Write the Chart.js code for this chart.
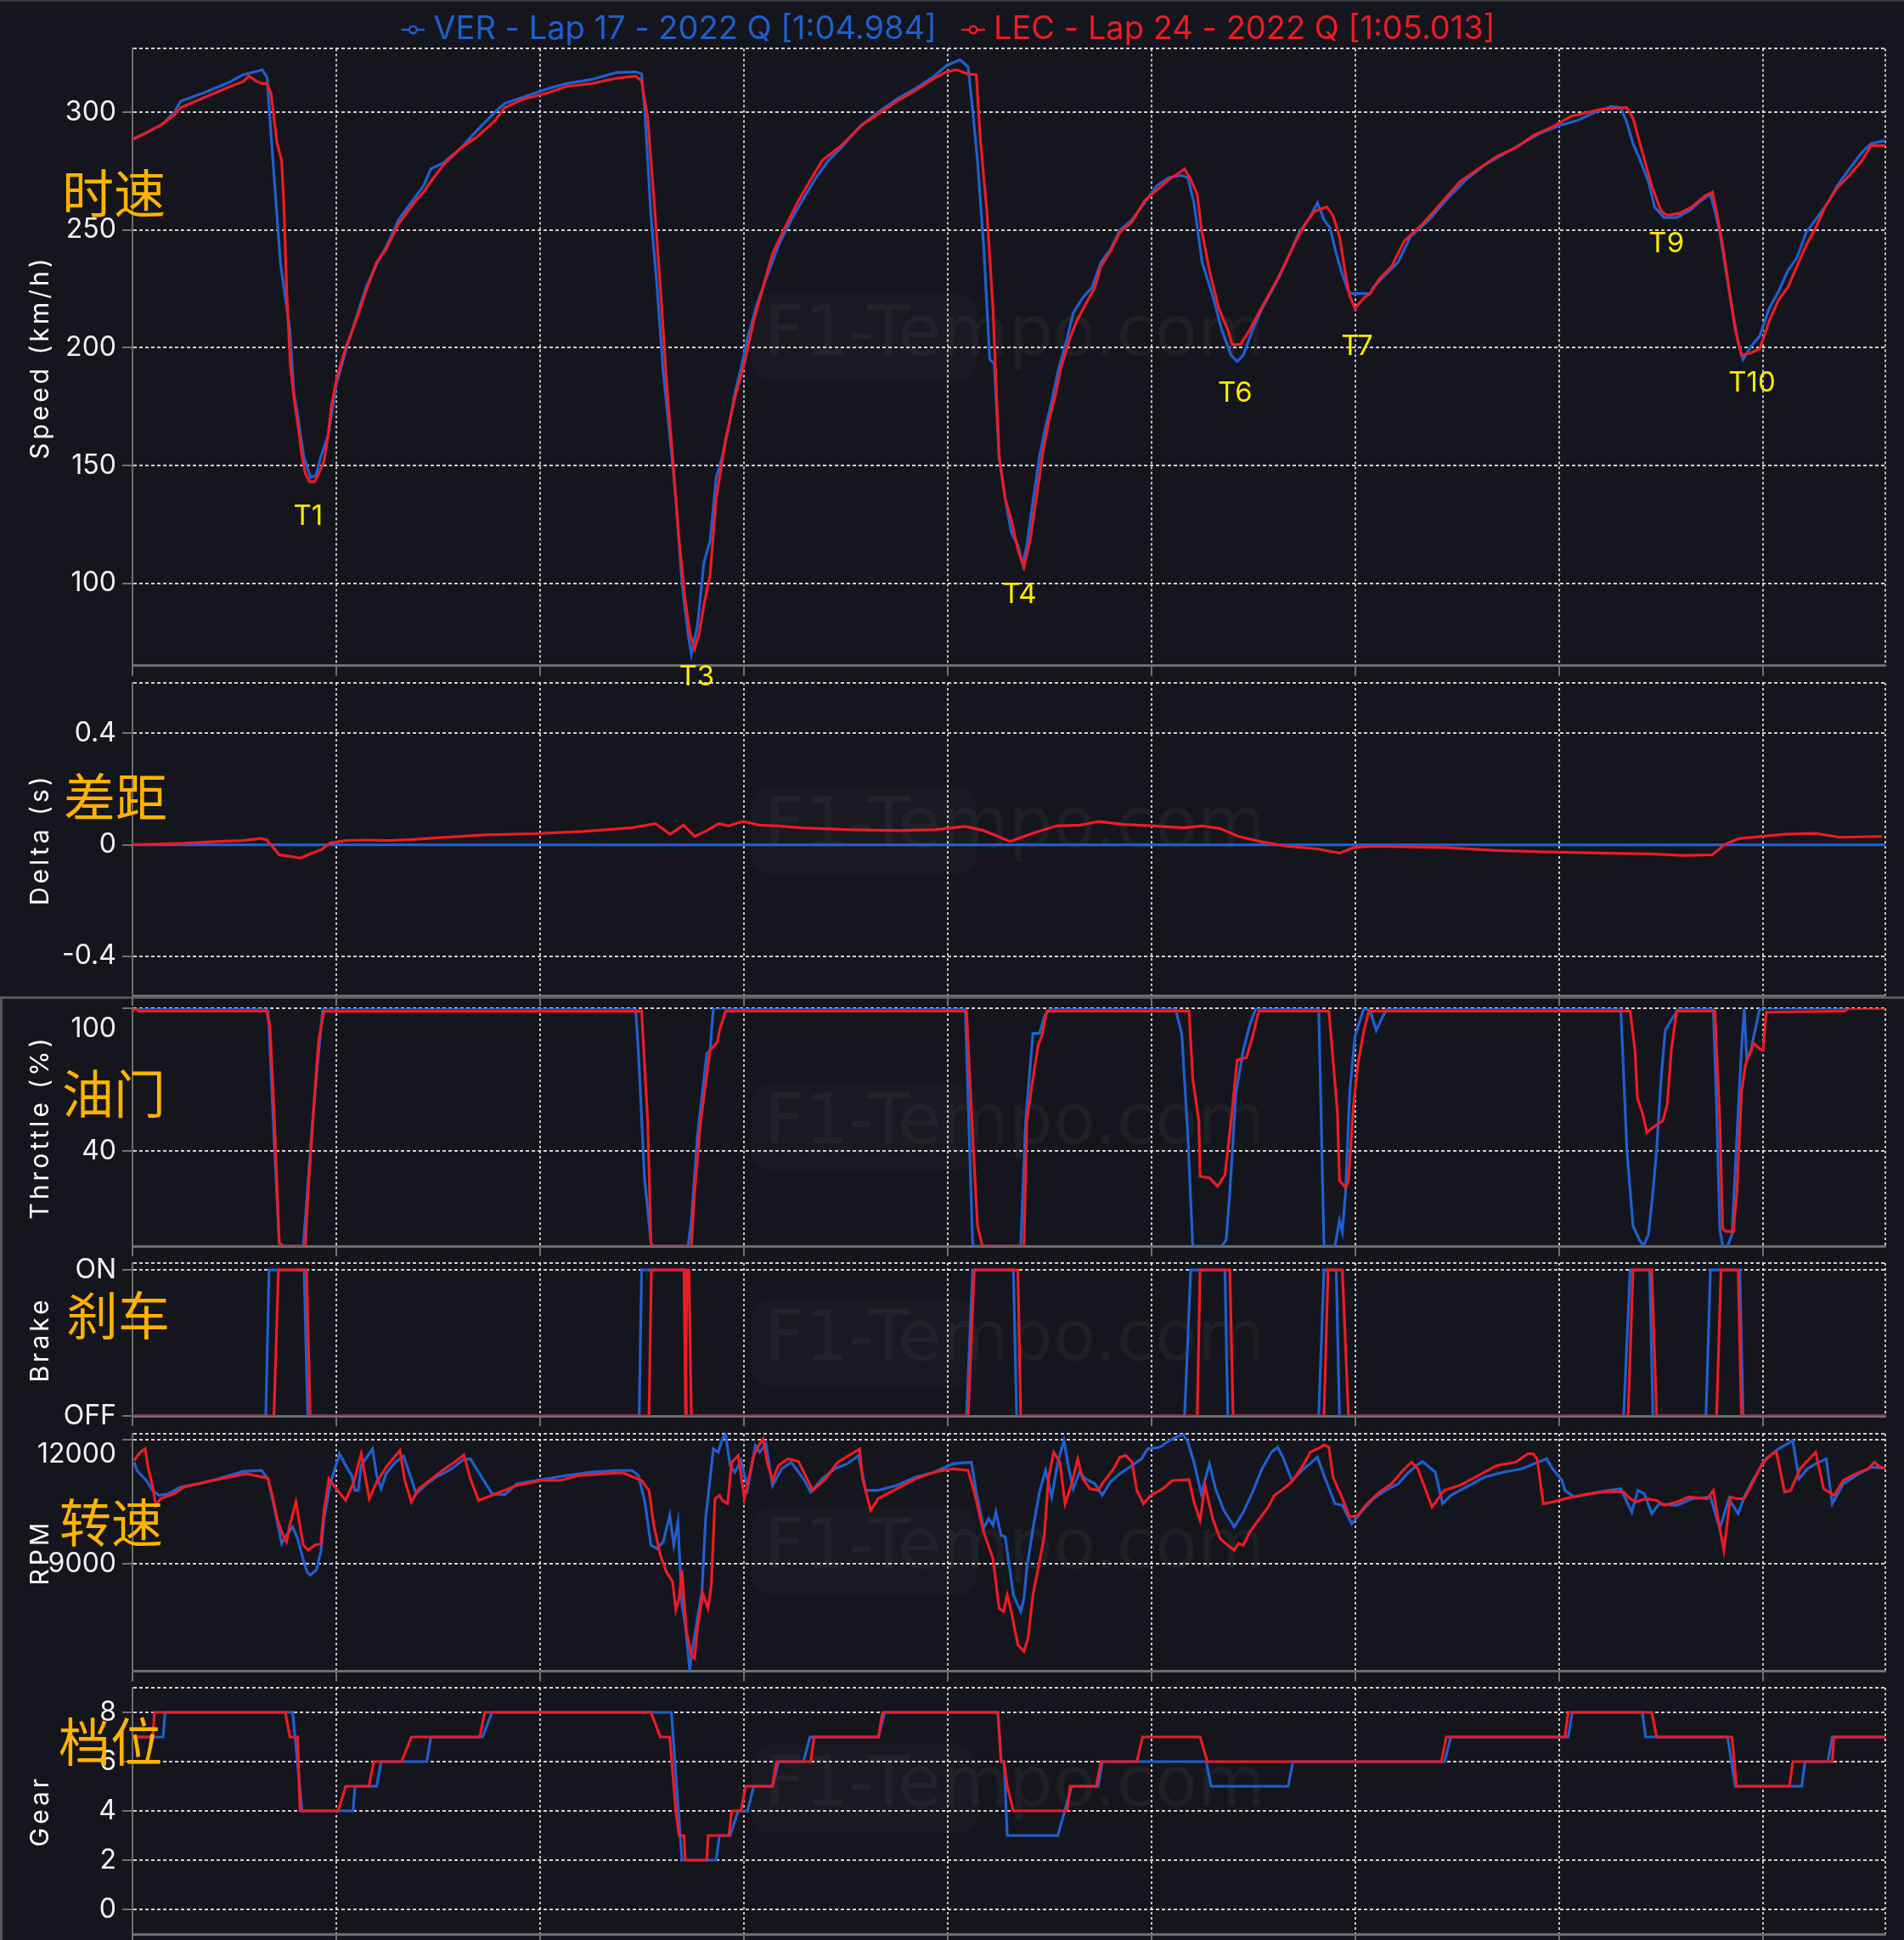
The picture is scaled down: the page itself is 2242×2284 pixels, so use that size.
<!DOCTYPE html>
<html><head><meta charset="utf-8">
<script src="https://cdn.jsdelivr.net/npm/chart.js@4.4.1/dist/chart.umd.min.js"></script>
<style>
html,body{margin:0;padding:0;width:2242px;height:2284px;overflow:hidden;background:#15151d;}
.pane{position:absolute;left:0;}
canvas{display:block;}
.cn{position:absolute;font-family:"Noto Sans CJK SC";font-size:61px;line-height:1;color:#ffb300;transform:translate(-50%,-50%);white-space:nowrap;z-index:50;}
.wm{position:absolute;font-family:"DejaVu Sans";font-size:82px;line-height:1;color:rgba(255,255,255,0.045);transform:translate(-50%,-50%);white-space:nowrap;z-index:1;}
.wmbox{position:absolute;width:265px;height:104px;border-radius:22px;background:rgba(255,255,255,0.02);z-index:1;}
#topline{position:absolute;left:0;top:0;width:2242px;height:2px;background:#3a3a3a;z-index:2;}
#lowerbox{position:absolute;left:0;top:1173px;width:2239px;height:1111px;border-top:3px solid #555;border-left:3px solid #555;z-index:2;}
</style></head><body>
<div id="topline"></div><div id="lowerbox"></div>
<script>
// ---------- data ----------
const verLabel = 'VER - Lap 17 - 2022 Q [1:04.984]';
const lecLabel = 'LEC - Lap 24 - 2022 Q [1:05.013]';
const lapLength = 4300;
const distanceTicks = [0, 500, 1000, 1500, 2000, 2500, 3000, 3500, 4000];

const speedTicks = [100, 150, 200, 250, 300];
const deltaTicks = [-0.4, 0, 0.4];
const throttleTicks = [40, 100];
const brakeTicks = [0, 1];
const brakeTickLabels = ['OFF', 'ON'];
const rpmTicks = [9000, 12000];
const gearTicks = [0, 2, 4, 6, 8];

const cornerNames = ['T1', 'T3', 'T4', 'T6', 'T7', 'T9', 'T10'];
const cornerDist = [431, 1384, 2176, 2705, 3004, 3763, 3973];
const cornerSpeed = [128.5, 60.2, 95.3, 180.5, 200.5, 244, 185];

const verSpeed = [[0,288.5],[26,290.6],[72,294.8],[103,300],[118,304.7],[179,308.6],[240,313],[271,316],[309,317.6],[318,318.1],[330,315],[340,290.3],[363,236],[386,207.7],[396,180.8],[405,171.8],[420,153.8],[437,144.8],[450,145.8],[462,153.8],[480,162.8],[500,184.4],[523,198.7],[546,211.3],[573,225.7],[599,235.5],[622,242.7],[653,254.4],[691,263.4],[714,268.8],[732,276],[763,278.6],[806,284.9],[844,292.1],[890,300.2],[913,303.8],[959,306.5],[1020,310.1],[1065,312.2],[1127,314],[1188,316.9],[1234,317.2],[1249,316.3],[1257,300],[1264,279.5],[1272,256],[1287,225.7],[1302,189.7],[1318,162.8],[1333,135.9],[1348,100],[1363,78.4],[1371,69.8],[1386,82],[1402,109],[1417,118],[1432,144.8],[1447,153.8],[1463,166.4],[1478,180.8],[1493,191.5],[1509,204.1],[1532,218.5],[1554,229.2],[1585,243.6],[1616,254.4],[1646,263.4],[1677,272.3],[1707,279.5],[1738,284.9],[1784,293.9],[1830,300.2],[1875,305.6],[1921,310.1],[1967,315.4],[1998,320],[2030,322.3],[2050,319.4],[2061,301.1],[2073,279.5],[2088,243.6],[2103,195.1],[2114,193.3],[2126,153.8],[2141,135.9],[2156,121.5],[2172,116.1],[2184,108],[2194,116.1],[2210,135.9],[2225,153.8],[2240,166.4],[2255,177.2],[2270,189.7],[2293,204.1],[2308,214.9],[2331,221.2],[2354,225.7],[2376,236.4],[2399,241.8],[2422,249.9],[2452,254.4],[2483,261.6],[2513,268.8],[2543,272.3],[2574,273.2],[2589,272.3],[2604,261.6],[2624,236.4],[2650,222],[2672,207.7],[2695,196.9],[2710,194.2],[2725,196.9],[2748,207.7],[2771,216.7],[2794,223.9],[2816,231.1],[2839,240],[2862,249],[2885,254.4],[2907,261.6],[2923,254.4],[2938,250.8],[2953,240],[2968,231.1],[2983,223.9],[2991,223],[3036,223],[3044,225.7],[3074,231.1],[3105,236.4],[3135,247.2],[3181,254.4],[3226,263.4],[3272,271.5],[3317,277.7],[3363,282.2],[3408,286.7],[3454,291.2],[3499,294.3],[3545,296.6],[3590,300.2],[3628,302.5],[3651,302],[3666,295.7],[3681,286.7],[3697,280.4],[3719,270.5],[3734,259.8],[3757,255.3],[3788,255.3],[3818,258],[3848,262.5],[3871,265.2],[3882,258],[3894,249],[3909,232.8],[3924,216.7],[3939,202.3],[3951,195.1],[3970,200.5],[3992,205],[4015,216.7],[4038,223.9],[4061,232.8],[4083,238.2],[4106,249],[4129,254.4],[4159,261.6],[4182,268.8],[4212,276],[4243,283.1],[4265,286.7],[4288,287.6],[4300,288]];

const lecSpeed = [[0,288.5],[26,290.6],[72,294.8],[103,299],[118,302],[179,306.5],[240,311],[271,313],[286,315.4],[303,313.3],[318,312.2],[330,312.2],[340,308],[347,297.5],[355,286.7],[366,279.5],[372,258],[378,225.7],[387,193.3],[396,179],[405,168.2],[416,153.8],[424,146.6],[434,143.1],[447,143.1],[457,146.6],[470,152],[480,162.8],[488,175.4],[500,186.2],[523,200],[546,210.4],[573,224],[599,236.4],[622,241.8],[653,252.6],[691,261.6],[714,266.1],[732,270.6],[763,277.7],[806,284.9],[844,289.4],[890,296.6],[913,302],[959,305.6],[1020,308.3],[1065,311],[1127,312.2],[1188,314.5],[1234,315.4],[1249,313.3],[1264,297.5],[1280,261.6],[1295,225.7],[1310,186.2],[1325,153.8],[1341,118],[1356,92.8],[1368,78.4],[1379,72.1],[1390,78.4],[1402,91],[1417,103.5],[1432,135.9],[1455,161],[1478,179],[1501,193.3],[1524,211.3],[1547,225.7],[1570,240],[1600,250.8],[1631,261.6],[1661,270.6],[1692,279.5],[1738,285.8],[1791,294.8],[1830,299.3],[1875,304.7],[1921,309.2],[1967,314.5],[1997,317.2],[2020,318.1],[2050,316.3],[2070,316],[2080,288.5],[2096,258],[2111,216.7],[2126,153.8],[2141,135.9],[2156,127],[2172,114.3],[2187,106.8],[2202,118],[2217,135.9],[2232,153.8],[2247,168.2],[2263,179],[2278,191.5],[2300,204.1],[2316,211.3],[2338,218.5],[2361,225.7],[2376,234.6],[2399,240.9],[2422,249],[2452,253.5],[2483,262.5],[2513,267],[2543,271.5],[2566,274.1],[2581,276],[2596,271.5],[2612,265.2],[2622,250.8],[2642,232.8],[2665,216.7],[2687,207.7],[2698,201.4],[2718,201.4],[2741,207.7],[2763,214.9],[2786,222],[2809,229.3],[2832,237.3],[2854,245.4],[2877,252.6],[2900,258],[2930,259.8],[2945,256.2],[2961,247.2],[2976,231.1],[2986,222],[2999,216.7],[3021,221.2],[3036,223],[3059,229.3],[3089,234.6],[3120,245.4],[3165,252.6],[3211,261.6],[3257,270.6],[3302,276],[3347,281.3],[3393,284.9],[3438,290.3],[3484,293.9],[3530,298.4],[3575,300.2],[3605,301.4],[3666,302],[3681,297.5],[3704,283.1],[3727,268.8],[3750,258],[3765,256.2],[3795,257.1],[3825,259.8],[3856,264.3],[3876,266.1],[3886,258],[3901,243.6],[3916,225.7],[3932,207.7],[3947,196.9],[3970,197.8],[3992,199.6],[4015,211.3],[4038,220.3],[4061,225.7],[4083,234.6],[4106,243.6],[4129,250.8],[4152,259.8],[4182,267.9],[4212,273.2],[4243,279.5],[4265,285.8],[4288,285.8],[4300,286]];

const verDelta = [[0,0],[4300,0]];
const lecDelta = [[0,0],[122,0.005],[211,0.012],[271,0.015],[315,0.023],[330,0.017],[360,-0.036],[384,-0.041],[411,-0.048],[435,-0.033],[464,-0.017],[485,0.007],[524,0.015],[569,0.017],[628,0.015],[688,0.019],[747,0.025],[866,0.036],[986,0.040],[1105,0.048],[1224,0.061],[1283,0.076],[1319,0.038],[1352,0.071],[1379,0.030],[1409,0.051],[1438,0.076],[1462,0.068],[1498,0.084],[1537,0.071],[1581,0.068],[1641,0.061],[1760,0.054],[1879,0.051],[1969,0.054],[2043,0.066],[2088,0.051],[2153,0.012],[2207,0.041],[2267,0.068],[2326,0.071],[2371,0.084],[2430,0.073],[2505,0.068],[2579,0.061],[2624,0.068],[2669,0.058],[2713,0.030],[2773,0.010],[2832,-0.005],[2907,-0.015],[2961,-0.030],[2996,-0.010],[3041,-0.005],[3220,-0.010],[3339,-0.020],[3458,-0.025],[3607,-0.030],[3726,-0.033],[3801,-0.038],[3875,-0.036],[3905,0],[3940,0.022],[4054,0.038],[4128,0.041],[4188,0.027],[4292,0.030]];

const verThrottle = [[0,100],[320,100],[332,99],[335,91.8],[347,46.5],[360,1.3],[363,0],[419,0],[427,18],[439,46.5],[454,76.3],[467,100],[1234,100],[1241,82.3],[1256,28.7],[1272,1.3],[1276,0],[1363,0],[1371,10.8],[1386,46.5],[1409,81],[1417,82.3],[1425,100],[2043,100],[2061,1.3],[2064,0],[2179,0],[2191,52.5],[2209,89.4],[2225,89.4],[2237,96.5],[2252,100],[2558,100],[2574,89.4],[2589,46.5],[2601,0],[2672,0],[2683,2.5],[2692,22.7],[2707,64.4],[2725,82.3],[2741,93],[2756,100],[2910,100],[2923,0],[2950,0],[2961,10.8],[2968,6],[2976,22.7],[2986,64.4],[2999,88.2],[3021,100],[3036,99],[3051,90.6],[3067,96.5],[3079,100],[3651,100],[3666,40.6],[3681,8.5],[3697,2.5],[3707,0],[3719,4.9],[3730,22.7],[3739,40.6],[3750,70.4],[3760,90.6],[3780,96.5],[3795,100],[3878,100],[3886,58.5],[3894,7.3],[3901,0],[3913,0],[3924,4.9],[3936,46.5],[3947,82.3],[3954,100],[3960,78.7],[3970,82.3],[3992,100],[4300,100]];
const lecThrottle = [[0,98.8],[8,100],[15,98.8],[329,98.8],[337,93],[347,58.5],[360,1.3],[370,0],[424,0],[431,22.7],[447,64.4],[457,87],[470,98.7],[1249,98.8],[1264,52.5],[1272,1.3],[1276,0],[1371,0],[1379,22.7],[1394,52.5],[1417,82.3],[1435,85.8],[1440,90.6],[1455,98.8],[2046,98.8],[2061,46.5],[2073,8.5],[2085,0],[2187,0],[2194,52.5],[2209,70.4],[2222,84.6],[2232,88.8],[2243,98.8],[2592,98.8],[2601,70.4],[2616,52.5],[2619,29.3],[2642,28.7],[2662,25.1],[2680,29.9],[2695,52.5],[2710,78.1],[2733,79.3],[2748,88.2],[2763,98.8],[2935,98.8],[2945,78.7],[2956,56.1],[2961,27.5],[2976,24.5],[2983,27.5],[2995,58.5],[3006,76.3],[3021,90.6],[3033,98.8],[3674,98.8],[3686,82.3],[3692,62],[3704,56.1],[3715,47.7],[3727,49.5],[3742,51.3],[3754,52.5],[3765,59.6],[3775,82.3],[3788,98.8],[3882,98.8],[3894,52.5],[3901,7.3],[3909,6.1],[3927,6.1],[3936,22.7],[3947,64.4],[3957,76.3],[3977,85.2],[3992,82.9],[4000,82.3],[4008,98.3],[4200,98.8],[4210,100],[4300,100]];

const verBrake = [[0,0],[327,0],[335,1],[421,1],[430,0],[1243,0],[1249,1],[1353,1],[1359,0],[2046,0],[2061,1],[2161,1],[2169,0],[2581,0],[2596,1],[2680,1],[2687,0],[2910,0],[2923,1],[2953,1],[2961,0],[3658,0],[3674,1],[3722,1],[3730,0],[3860,0],[3871,1],[3943,1],[3951,0],[4300,0]];
const lecBrake = [[0,0],[347,0],[358,1],[427,1],[436,0],[1267,0],[1273,1],[1353,1],[1357,0],[1360,1],[1365,1],[1371,0],[2050,0],[2065,1],[2172,1],[2179,0],[2612,0],[2619,1],[2692,1],[2700,0],[2923,0],[2933,1],[2968,1],[2983,0],[3669,0],[3681,1],[3727,1],[3739,0],[3886,0],[3897,1],[3939,1],[3947,0],[4300,0]];

const verRpm = [[4,11461],[11,11260],[34,11019],[49,10778],[65,10657],[88,10697],[118,10858],[164,10938],[210,11059],[271,11236],[317,11260],[332,11059],[347,10415],[366,9490],[378,9691],[393,9892],[405,9611],[416,9208],[428,8806],[436,8726],[451,8846],[462,9289],[470,10093],[485,10938],[508,11663],[523,11381],[538,11140],[546,10778],[554,10778],[561,11381],[589,11783],[599,11140],[610,10818],[622,11180],[645,11461],[665,11606],[684,11059],[696,10697],[722,10938],[745,11099],[783,11301],[813,11526],[829,11542],[844,11301],[882,10697],[913,10673],[943,10938],[1004,11043],[1065,11140],[1127,11220],[1188,11260],[1226,11260],[1241,11140],[1257,10496],[1272,9450],[1287,9369],[1302,9530],[1318,10174],[1328,9450],[1338,10013],[1348,8001],[1356,7519],[1367,6432],[1374,6955],[1386,7680],[1397,8323],[1406,10093],[1417,11059],[1425,11783],[1437,11703],[1447,12025],[1455,12145],[1466,11381],[1478,11220],[1493,11502],[1509,10818],[1528,11864],[1539,11703],[1554,11904],[1570,10898],[1593,11301],[1616,11461],[1646,11059],[1664,10737],[1692,11059],[1723,11301],[1753,11421],[1781,11622],[1799,10778],[1829,10778],[1875,10898],[1921,11099],[1967,11220],[2012,11421],[2058,11461],[2070,10737],[2088,9852],[2100,10093],[2111,9933],[2118,10254],[2131,9691],[2141,9651],[2152,8887],[2161,8243],[2172,8001],[2179,7841],[2187,8162],[2194,8887],[2209,9852],[2225,10737],[2240,11260],[2255,10617],[2270,11461],[2285,11985],[2297,11301],[2308,10818],[2323,11220],[2338,11059],[2361,10938],[2379,10657],[2399,10979],[2422,11180],[2452,11381],[2475,11542],[2490,11783],[2521,11824],[2543,11985],[2577,12145],[2589,11944],[2604,11461],[2622,10697],[2642,11421],[2657,10818],[2677,10295],[2703,9892],[2725,10254],[2748,10737],[2771,11301],[2794,11703],[2809,11824],[2824,11542],[2844,11019],[2869,11260],[2907,11582],[2923,11140],[2950,10456],[2968,10415],[2991,9973],[3014,10254],[3044,10576],[3074,10778],[3105,10938],[3127,11180],[3150,11381],[3165,11478],[3196,11220],[3214,10456],[3234,10657],[3272,10858],[3317,11099],[3363,11220],[3408,11301],[3438,11421],[3469,11542],[3484,11301],[3507,11019],[3514,10778],[3537,10617],[3575,10697],[3621,10778],[3651,10818],[3678,10254],[3693,10778],[3709,10697],[3727,10214],[3745,10456],[3788,10415],[3826,10576],[3871,10617],[3894,9852],[3916,10576],[3939,10214],[3954,10617],[3977,11059],[4007,11542],[4038,11783],[4073,11985],[4088,11059],[4109,11301],[4129,11421],[4155,11542],[4170,10456],[4197,10938],[4235,11180],[4266,11341],[4300,11317]];
const lecRpm = [[4,11502],[19,11703],[31,11783],[39,11301],[49,10898],[57,10415],[69,10576],[103,10697],[126,10858],[179,10979],[225,11075],[279,11180],[332,11075],[343,10657],[355,10093],[366,9772],[378,9530],[386,9933],[401,10496],[408,10093],[419,9450],[431,9329],[447,9450],[462,9490],[470,10295],[482,11059],[500,10818],[523,10536],[543,10979],[561,11663],[581,10576],[599,10979],[625,11381],[656,11743],[668,11019],[684,10496],[702,10818],[729,11019],[760,11260],[790,11461],[813,11638],[829,11059],[849,10536],[882,10657],[943,10898],[1004,11019],[1050,11019],[1096,11140],[1157,11180],[1203,11204],[1249,11019],[1267,10778],[1279,9933],[1295,9208],[1310,8806],[1325,8565],[1333,7881],[1341,8162],[1348,8846],[1359,7357],[1371,6794],[1379,6714],[1386,7438],[1399,8283],[1412,7921],[1420,8484],[1429,10576],[1440,10657],[1447,10536],[1460,10456],[1470,11461],[1486,11622],[1501,10576],[1524,11622],[1536,11864],[1547,12025],[1557,11461],[1570,11019],[1585,11381],[1608,11542],[1634,11478],[1669,10778],[1700,11059],[1730,11461],[1784,11783],[1791,11059],[1811,10295],[1829,10576],[1875,10818],[1921,11059],[1967,11220],[2012,11301],[2050,11260],[2065,10737],[2088,9772],[2111,9128],[2126,7921],[2137,7841],[2146,8243],[2156,7841],[2172,7036],[2187,6875],[2197,7197],[2209,8243],[2225,9048],[2237,9691],[2247,11059],[2260,11703],[2275,11461],[2288,10456],[2303,10898],[2319,11542],[2331,11059],[2349,10818],[2369,10778],[2379,10938],[2407,11301],[2422,11582],[2437,11622],[2452,11461],[2464,10778],[2480,10456],[2498,10657],[2528,10818],[2551,11019],[2592,11035],[2604,10496],[2619,10053],[2631,10898],[2650,10093],[2668,9611],[2687,9450],[2703,9329],[2713,9490],[2725,9450],[2741,9772],[2759,10013],[2786,10375],[2801,10657],[2824,10818],[2847,11019],[2874,11421],[2889,11703],[2915,11824],[2923,11880],[2935,11824],[2945,11099],[2965,10657],[2986,10134],[3006,10174],[3029,10456],[3059,10737],[3089,10938],[3120,11301],[3138,11461],[3153,11301],[3173,10778],[3188,10375],[3218,10778],[3256,10898],[3302,11140],[3347,11381],[3393,11461],[3423,11663],[3436,11663],[3446,11542],[3461,10456],[3484,10496],[3530,10617],[3575,10697],[3621,10754],[3658,10737],[3674,10576],[3689,10496],[3712,10576],[3739,10536],[3757,10415],[3788,10496],[3818,10617],[3863,10576],[3878,10778],[3891,10013],[3904,9329],[3920,10617],[3936,10576],[3954,10576],[3977,11019],[4000,11461],[4023,11663],[4033,11703],[4053,10737],[4068,10778],[4091,11301],[4129,11703],[4149,10818],[4174,10657],[4197,11019],[4227,11180],[4258,11301],[4273,11461],[4288,11341],[4300,11301]];

const verGear = [[0,7],[75,7],[80,8],[393,8],[416,4],[541,4],[546,5],[599,5],[610,6],[722,6],[732,7],[859,7],[882,8],[1322,8],[1348,2],[1432,2],[1440,3],[1466,3],[1486,4],[1509,4],[1524,5],[1570,5],[1585,6],[1646,6],[1662,7],[1830,7],[1845,8],[2123,8],[2131,6],[2138,6],[2146,3],[2270,3],[2304,5],[2369,5],[2379,6],[2634,6],[2646,5],[2835,5],[2847,6],[3219,6],[3234,7],[3522,7],[3532,8],[3704,8],[3712,7],[3913,7],[3932,5],[4095,5],[4103,6],[4159,6],[4170,7],[4300,7]];
const lecGear = [[0,7],[50,7],[54,8],[375,8],[386,7],[405,7],[411,4],[505,4],[523,5],[580,5],[592,6],[660,6],[684,7],[852,7],[864,8],[1272,8],[1295,7],[1318,7],[1333,4],[1341,3],[1353,3],[1356,2],[1409,2],[1412,3],[1463,3],[1470,4],[1493,4],[1504,5],[1570,5],[1580,6],[1664,6],[1672,7],[1830,7],[1840,8],[2123,8],[2131,6],[2138,6],[2146,5],[2161,4],[2293,4],[2300,5],[2364,5],[2376,6],[2464,6],[2478,7],[2619,7],[2637,6],[3211,6],[3223,7],[3514,7],[3522,8],[3727,8],[3739,7],[3924,7],[3935,5],[4065,5],[4073,6],[4170,6],[4174,7],[4300,7]];

// ---------- styling / layout ----------
const verColor = '#1f5fce';
const lecColor = '#ec1c24';
const FONT = 'Inter';
const TICK_SIZE = 32;

const panels = [
  {title:'Speed (km/h)', cn:'时速', ver:verSpeed, lec:lecSpeed, min:65, max:327, ticks:speedTicks, plotTop:57.4, plotBottom:783.7, padTop:0, legend:true, cnX:134, cnY:224, wmY:390},
  {title:'Delta (s)', cn:'差距', ver:verDelta, lec:lecDelta, min:-0.542, max:0.581, ticks:deltaTicks, plotTop:804.3, plotBottom:1172.7, padTop:30, cnX:136, cnY:935, wmY:969},
  {title:'Throttle (%)', cn:'油门', ver:verThrottle, lec:lecThrottle, min:0, max:100, ticks:throttleTicks, plotTop:1187, plotBottom:1467, padTop:62, labelShift:{100:24}, cnX:134, cnY:1284, wmY:1318},
  {title:'Brake', cn:'刹车', ver:verBrake, lec:lecBrake, min:0, max:1.047, ticks:brakeTicks, tickLabels:brakeTickLabels, plotTop:1487, plotBottom:1667, padTop:30, cnX:139, cnY:1545, wmY:1573},
  {title:'RPM', cn:'转速', ver:verRpm, lec:lecRpm, min:6400, max:12150, ticks:rpmTicks, plotTop:1687.6, plotBottom:1967, padTop:30, labelShift:{12000:17}, cnX:131, cnY:1789, wmY:1818},
  {title:'Gear', cn:'档位', ver:verGear, lec:lecGear, min:-1, max:9, ticks:gearTicks, plotTop:1987, plotBottom:2277, padTop:30, cnX:130, cnY:2047, wmY:2098}
];

const toXY = pairs => pairs.map(([x, y]) => ({x, y}));

function legendIcon(color) {
  const c = document.createElement('canvas');
  c.width = 50; c.height = 14;
  const g = c.getContext('2d');
  g.strokeStyle = color; g.lineWidth = 2.5;
  g.beginPath(); g.moveTo(22, 7); g.lineTo(50, 7); g.stroke();
  g.beginPath(); g.arc(36, 7, 4.3, 0, Math.PI * 2);
  g.fillStyle = '#15151d'; g.fill(); g.stroke();
  return c;
}
const legendIcons = [legendIcon(verColor), legendIcon(lecColor)];

const spacedTitle = {
  id: 'spacedTitle',
  beforeDraw(chart) {
    const s = chart.scales.y;
    if (s && !s.__spaced) {
      const orig = s.drawTitle;
      s.drawTitle = function () {
        const c = this.ctx; c.save(); c.letterSpacing = '4px'; orig.call(this); c.restore();
      };
      s.__spaced = true;
    }
  }
};

const cornerPlugin = {
  id: 'corners',
  afterDatasetsDraw(chart) {
    const {ctx, scales: {x, y}} = chart;
    ctx.save();
    ctx.font = '33px ' + FONT;
    ctx.fillStyle = '#ffea00';
    ctx.textAlign = 'center';
    ctx.textBaseline = 'middle';
    cornerNames.forEach((t, i) => ctx.fillText(t, x.getPixelForValue(cornerDist[i]), y.getPixelForValue(cornerSpeed[i])));
    ctx.restore();
  }
};

const hideBoundTick = c => (c.tick && c.tick.bound) ? 'rgba(0,0,0,0)' : '#707070';

panels.forEach((p, idx) => {
  const box = document.createElement('div'); box.className = 'wmbox';
  box.style.left = '885px'; box.style.top = (p.wmY - 44) + 'px';
  document.body.appendChild(box);
  const wm = document.createElement('div'); wm.className = 'wm'; wm.textContent = 'F1-Tempo.com';
  wm.style.left = '1195px'; wm.style.top = p.wmY + 'px';
  document.body.appendChild(wm);
  const cn = document.createElement('div'); cn.className = 'cn'; cn.textContent = p.cn;
  cn.style.left = p.cnX + 'px'; cn.style.top = p.cnY + 'px';
  document.body.appendChild(cn);

  // canvas geometry
  const canvasTop = p.legend ? 0 : p.plotTop - p.padTop;
  const bottomRoom = p.legend ? 34 : 20;
  const height = Math.round(p.plotBottom + 12 + bottomRoom - canvasTop);
  const padBottom = height - (p.plotBottom - canvasTop) - 12;

  const wrap = document.createElement('div'); wrap.className = 'pane';
  wrap.style.top = canvasTop + 'px'; wrap.style.zIndex = p.legend ? 30 : 10 + idx;
  const cv = document.createElement('canvas');
  cv.width = 2242; cv.height = height;
  cv.style.width = '2242px'; cv.style.height = height + 'px';
  wrap.appendChild(cv); document.body.appendChild(wrap);

  const shifts = p.labelShift || {};
  const yTicks = p.ticks.map(v => ({value: v, shift: shifts[v] || 0}));
  if (!p.ticks.includes(p.min)) yTicks.unshift({value: p.min, bound: true});
  if (!p.ticks.includes(p.max)) yTicks.push({value: p.max, bound: true});

  new Chart(cv.getContext('2d'), {
    type: 'line',
    data: {
      datasets: [
        {label: verLabel, data: toXY(p.ver), borderColor: verColor, backgroundColor: verColor, borderWidth: 3.2, pointRadius: 0, order: 1},
        {label: lecLabel, data: toXY(p.lec), borderColor: lecColor, backgroundColor: lecColor, borderWidth: 3.2, pointRadius: 0, order: 0}
      ]
    },
    options: {
      responsive: false, animation: false, devicePixelRatio: 1,
      layout: {padding: {top: p.legend ? 0 : p.padTop, bottom: padBottom, left: 0, right: 22}},
      plugins: {
        tooltip: {enabled: false},
        legend: p.legend ? {
          display: true, position: 'top', align: 'center', maxHeight: 57.4,
          labels: {
            usePointStyle: true, pointStyleWidth: 32, boxWidth: 32, padding: 16,
            font: {size: 38, family: FONT},
            generateLabels: chart => chart.data.datasets.map((ds, i) => ({
              text: ds.label, fontColor: ds.borderColor, fillStyle: ds.borderColor,
              strokeStyle: ds.borderColor, lineWidth: 0, pointStyle: legendIcons[i],
              hidden: false, datasetIndex: i
            }))
          }
        } : {display: false}
      },
      scales: {
        x: {
          type: 'linear', min: 0, max: lapLength,
          afterBuildTicks: s => { s.ticks = distanceTicks.map(v => ({value: v})).concat([{value: lapLength, bound: true}]); },
          ticks: {display: false},
          grid: {color: 'rgba(255,255,255,0.75)', lineWidth: 2, drawTicks: true, tickLength: 12,
                 tickColor: hideBoundTick, tickWidth: 2, tickBorderDash: []},
          border: {display: true, color: '#6e6e6e', width: 3, dash: [3, 3]}
        },
        y: {
          type: 'linear', min: p.min, max: p.max,
          afterBuildTicks: s => { s.ticks = yTicks.map(t => Object.assign({}, t)); },
          afterFit: s => { s.width = 156; },
          ticks: {
            color: '#f2f2f2', padding: 7,
            font: c => {
              const sh = c.tick && c.tick.shift;
              return sh ? {size: TICK_SIZE, family: FONT, lineHeight: (2 * sh) / TICK_SIZE} : {size: TICK_SIZE, family: FONT};
            },
            callback: (value, index, ticks) => {
              const t = ticks[index];
              if (t.bound) return '';
              const txt = p.tickLabels ? p.tickLabels[p.ticks.indexOf(value)] : String(value);
              return t.shift ? ['', txt] : txt;
            }
          },
          grid: {color: 'rgba(255,255,255,0.8)', lineWidth: 2, drawTicks: true, tickLength: 12,
                 tickColor: hideBoundTick, tickWidth: 2, tickBorderDash: []},
          border: {display: true, color: '#6e6e6e', width: 2, dash: [4, 3]},
          title: {display: true, text: p.title, color: '#ffffff', font: {size: 30, family: FONT}, padding: {top: 30, bottom: 0}}
        }
      }
    },
    plugins: p.legend ? [spacedTitle, cornerPlugin] : [spacedTitle]
  });
});
</script>
</body></html>
